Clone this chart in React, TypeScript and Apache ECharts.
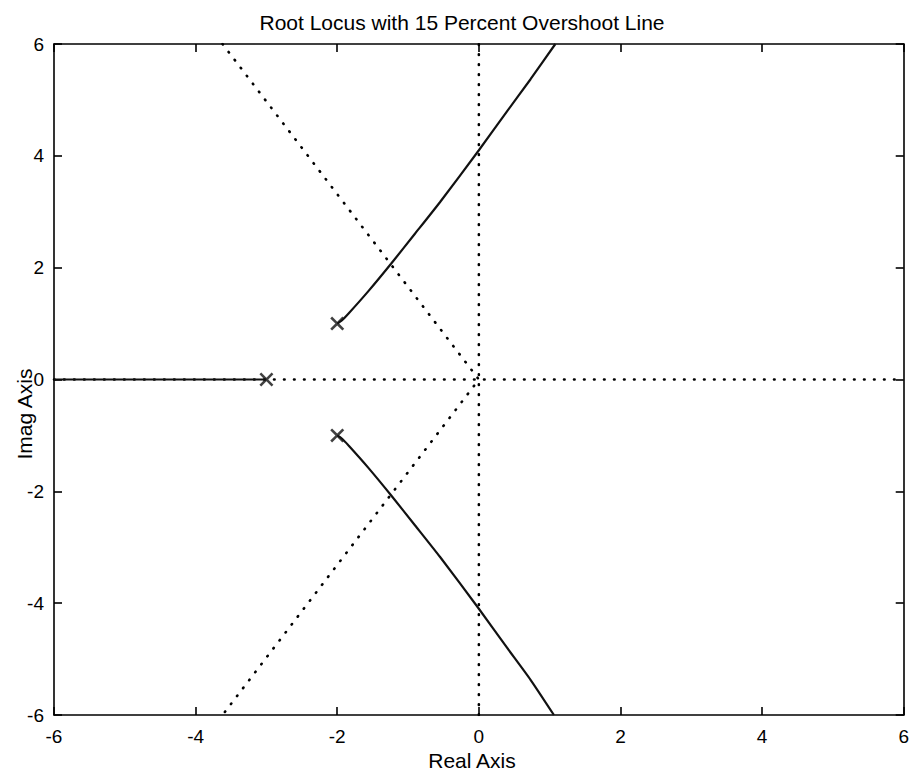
import React, { useEffect, useRef } from "react";
import * as echarts from "echarts";

// Axis ticks
const axisMin = -6;
const axisMax = 6;
const tickStep = 2;

// Open-loop poles (real, imag)
const poles: number[][] = [
  [-2, 1],
  [-2, -1],
  [-3, 0],
];

// Root locus branches
const upperBranch: number[][] = [
  [-2.0, 1.0],
  [-1.94, 1.05],
  [-1.84, 1.18],
  [-1.56, 1.58],
  [-1.24, 2.07],
  [-0.9, 2.61],
  [-0.55, 3.17],
  [0, 4.1],
  [0.4, 4.8],
  [0.73, 5.37],
  [1.08, 6.0],
];
const lowerBranch: number[][] = [
  [-2.0, -1.0],
  [-1.94, -1.05],
  [-1.84, -1.18],
  [-1.56, -1.58],
  [-1.24, -2.07],
  [-0.9, -2.61],
  [-0.55, -3.17],
  [0, -4.1],
  [0.4, -4.8],
  [0.73, -5.37],
  [1.06, -6.0],
];
const realBranch: number[][] = [
  [-6, 0],
  [-3, 0],
];

// 15 percent overshoot line
const overshootLine: number[][] = [
  [-3.62, 6],
  [0, 0],
  [-3.62, -6],
];
// Dotted zero lines
const vZero: number[][] = [
  [0, -6],
  [0, 6],
];
const hZero: number[][] = [
  [-6, 0],
  [6, 0],
];

const FONT = "'Liberation Sans', Arial, Helvetica, sans-serif";

export default function App() {
  const ref = useRef<HTMLDivElement>(null);
  useEffect(() => {
    if (!ref.current) return;
    const chart = echarts.init(ref.current, undefined, { renderer: "svg" });
    const axisLine = { show: true, onZero: false, lineStyle: { color: "#000", width: 1.6 } };
    const tick = { show: true, inside: true, length: 8, lineStyle: { color: "#000", width: 1.6 } };
    const labelStyle = { color: "#000", fontSize: 19, fontFamily: FONT };
    const dotted = { color: "#000", width: 2.6, type: [0.6, 9.4] as number[], cap: "round" as const };
    chart.setOption({
      animation: false,
      backgroundColor: "#fff",
      grid: { left: 54, right: 4, top: 44, bottom: 57, containLabel: false },
      xAxis: [
        {
          type: "value", min: axisMin, max: axisMax, interval: tickStep, position: "bottom",
          axisLine, axisTick: tick, splitLine: { show: false },
          axisLabel: { ...labelStyle, margin: 12 },
        },
        {
          type: "value", min: axisMin, max: axisMax, interval: tickStep, position: "top",
          axisLine, axisTick: tick, splitLine: { show: false }, axisLabel: { show: false },
        },
      ],
      yAxis: [
        {
          type: "value", min: axisMin, max: axisMax, interval: tickStep, position: "left",
          axisLine, axisTick: tick, splitLine: { show: false },
          axisLabel: { ...labelStyle, margin: 10 },
        },
        {
          type: "value", min: axisMin, max: axisMax, interval: tickStep, position: "right",
          axisLine, axisTick: tick, splitLine: { show: false }, axisLabel: { show: false },
        },
      ],
      graphic: [
        {
          type: "text", x: 462, y: 22,
          style: { text: "Root Locus with 15 Percent Overshoot Line", fill: "#000", font: `21px ${FONT}`, align: "center", verticalAlign: "middle" },
        },
        {
          type: "text", x: 472, y: 760,
          style: { text: "Real Axis", fill: "#000", font: `21px ${FONT}`, align: "center", verticalAlign: "middle" },
        },
        {
          type: "text", x: 24, y: 414, rotation: Math.PI / 2,
          style: { text: "Imag Axis", fill: "#000", font: `21px ${FONT}`, align: "center", verticalAlign: "middle" },
        },
      ],
      series: [
        { type: "line", data: vZero, symbol: "none", lineStyle: dotted, silent: true },
        { type: "line", data: hZero, symbol: "none", lineStyle: dotted, silent: true },
        { type: "line", data: overshootLine, symbol: "none", lineStyle: dotted, silent: true },
        { type: "line", data: realBranch, symbol: "none", lineStyle: { color: "#111", width: 2.2 } },
        { type: "line", data: upperBranch, symbol: "none", smooth: 0.2, lineStyle: { color: "#111", width: 2.2 } },
        { type: "line", data: lowerBranch, symbol: "none", smooth: 0.2, lineStyle: { color: "#111", width: 2.2 } },
        {
          type: "scatter", data: poles,
          symbol: "path://M0,1.3 L1.3,0 L5,3.7 L8.7,0 L10,1.3 L6.3,5 L10,8.7 L8.7,10 L5,6.3 L1.3,10 L0,8.7 L3.7,5 Z",
          symbolSize: 14, itemStyle: { color: "#111" }, z: 5,
        },
      ],
    });
    return () => chart.dispose();
  }, []);
  return (
    <div
      ref={ref}
      style={{ position: "fixed", left: 0, top: 0, width: 912, height: 772, background: "#fff" }}
    />
  );
}
